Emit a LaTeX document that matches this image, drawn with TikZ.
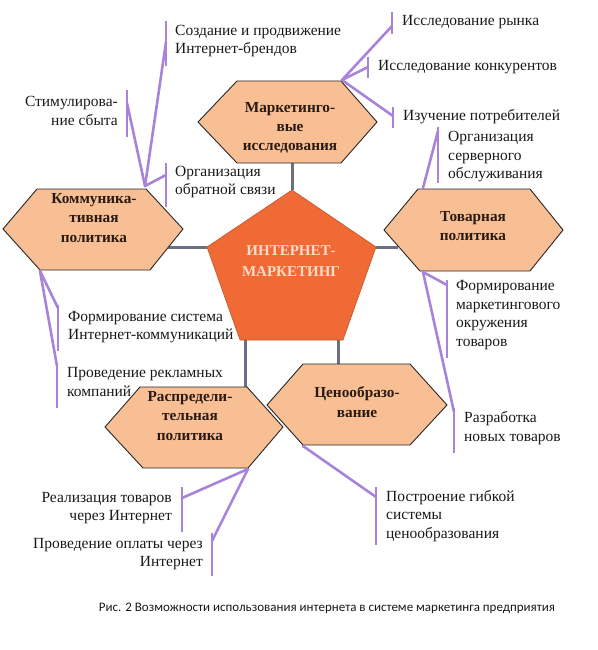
\documentclass[tikz,border=0pt]{standalone}
\usepackage{fontspec}
\setmainfont{Liberation Serif}
\newfontfamily\capfont{Carlito}
\definecolor{hexfill}{HTML}{F8BF95}
\definecolor{pentfill}{HTML}{F06A35}
\definecolor{penttext}{HTML}{FBDCC8}
\definecolor{linkgray}{HTML}{6A7082}
\definecolor{lav}{HTML}{A784DA}
\definecolor{darktext}{HTML}{2A1A12}
\begin{document}
\begin{tikzpicture}[x=1pt,y=-1pt,
  hexa/.style={draw=black!85, fill=hexfill, line width=0.9pt, line join=miter},
  pent/.style={draw=pentfill!80!black, fill=pentfill, line width=0.6pt},
  hl/.style={font=\bfseries\fontsize{15.3}{19.2}\selectfont, align=center, inner sep=0pt, text=darktext},
  ptxt/.style={font=\bfseries\fontsize{15}{21}\selectfont, align=center, inner sep=0pt, text=penttext},
  lbl/.style={font=\fontsize{15.5}{18.5}\selectfont, align=left, inner sep=0pt, anchor=west, text=black!90},
  lblr/.style={font=\fontsize{15.5}{18.5}\selectfont, align=right, inner sep=0pt, anchor=east, text=black!90},
  glink/.style={draw=linkgray, line width=3pt},
  plink/.style={draw=lav, line width=2.6pt, line cap=round},
  pbar/.style={draw=lav, line width=2.8pt}]
\useasboundingbox (0,0) rectangle (597,650);

% ---------- hexagon corner coordinates ----------
% Marketing research
\coordinate (Ml) at (198,122); \coordinate (Mtl) at (237,81); \coordinate (Mtr) at (341,81);
\coordinate (Mr) at (377,122); \coordinate (Mbr) at (341,163); \coordinate (Mbl) at (237,163);
% Communication
\coordinate (Kl) at (3,229); \coordinate (Ktl) at (37,189); \coordinate (Ktr) at (146,189);
\coordinate (Kr) at (183,229); \coordinate (Kbr) at (150,270); \coordinate (Kbl) at (40,270);
% Product
\coordinate (Tl) at (384,230); \coordinate (Ttl) at (418,189); \coordinate (Ttr) at (530,189);
\coordinate (Tr) at (563,230); \coordinate (Tbr) at (530,271); \coordinate (Tbl) at (420,271);
% Distribution
\coordinate (Rl) at (105,427); \coordinate (Rtl) at (140,387); \coordinate (Rtr) at (247,387);
\coordinate (Rr) at (283,427); \coordinate (Rbr) at (248,468); \coordinate (Rbl) at (143,468);
% Pricing
\coordinate (Cl) at (267,405); \coordinate (Ctl) at (303,364); \coordinate (Ctr) at (410,364);
\coordinate (Cr) at (447,405); \coordinate (Cbr) at (410,445); \coordinate (Cbl) at (303,445);
% Pentagon
\coordinate (Pt) at (292,190); \coordinate (Pur) at (376,247); \coordinate (Plr) at (343,340);
\coordinate (Pll) at (240,340); \coordinate (Pul) at (207,247);

% ---------- gray links ----------
\coordinate (Mb) at (292,163);
\coordinate (Ke) at (168,247);
\coordinate (Te) at (398,247);
\coordinate (Pb1) at (245,340); \coordinate (Rt) at (245,387);
\coordinate (Pb2) at (338,340); \coordinate (Ct) at (338,364);
\draw[glink] (Mb) -- (Pt);
\draw[glink] (Ke) -- (Pul);
\draw[glink] (Te) -- (Pur);
\draw[glink] (Pb1) -- (Rt);
\draw[glink] (Pb2) -- (Ct);

% ---------- shapes ----------
\path[hexa] (Ml) -- (Mtl) -- (Mtr) -- (Mr) -- (Mbr) -- (Mbl) -- cycle;
\path[hexa] (Kl) -- (Ktl) -- (Ktr) -- (Kr) -- (Kbr) -- (Kbl) -- cycle;
\path[hexa] (Tl) -- (Ttl) -- (Ttr) -- (Tr) -- (Tbr) -- (Tbl) -- cycle;
\path[hexa] (Rl) -- (Rtl) -- (Rtr) -- (Rr) -- (Rbr) -- (Rbl) -- cycle;
\path[hexa] (Cl) -- (Ctl) -- (Ctr) -- (Cr) -- (Cbr) -- (Cbl) -- cycle;
\path[pent] (Pt) -- (Pur) -- (Plr) -- (Pll) -- (Pul) -- cycle;

\node[hl] (M) at (290,128) {Маркетинго-\\вые\\исследования};
\node[hl] (K) at (94,218) {Коммуника-\\тивная\\политика};
\node[hl] (T) at (473,226) {Товарная\\политика};
\node[hl] (R) at (190,416) {Распредели-\\тельная\\политика};
\node[hl] (C) at (357,402) {Ценообразо-\\вание};
\node[ptxt] (P) at (291,261) {ИНТЕРНЕТ-\\МАРКЕТИНГ};

% ---------- purple brackets ----------
% Marketing research
\coordinate (Mo) at (342,80);
\coordinate (b1t) at (392,12); \coordinate (b1b) at (392,34); \coordinate (b1j) at (392,26);
\coordinate (b2t) at (368,57); \coordinate (b2b) at (368,78); \coordinate (b2j) at (368,67);
\coordinate (b3t) at (393,107); \coordinate (b3b) at (393,128); \coordinate (b3j) at (393,116);
\draw[plink] (Mo) -- (b1j); \draw[pbar] (b1t) -- (b1b);
\draw[plink] (Mo) -- (b2j); \draw[pbar] (b2t) -- (b2b);
\draw[plink] (Mo) -- (b3j); \draw[pbar] (b3t) -- (b3b);
\node[lbl] (L1) at (402,22) {Исследование рынка};
\node[lbl] (L2) at (378,67) {Исследование конкурентов};
\node[lbl] (L3) at (403,117) {Изучение потребителей};

% Communication, upper
\coordinate (Ko) at (145,186);
\coordinate (b4t) at (166,21); \coordinate (b4b) at (166,66); \coordinate (b4j) at (166,42);
\coordinate (b5t) at (127,90); \coordinate (b5b) at (127,137); \coordinate (b5j) at (127,103);
\coordinate (b6t) at (166,163); \coordinate (b6b) at (166,207); \coordinate (b6j) at (166,175);
\draw[plink] (Ko) -- (b4j); \draw[pbar] (b4t) -- (b4b);
\draw[plink] (Ko) -- (b5j); \draw[pbar] (b5t) -- (b5b);
\draw[plink] (Ko) -- (b6j); \draw[pbar] (b6t) -- (b6b);
\node[lbl] (L4) at (175,41) {Создание и продвижение\\Интернет-брендов};
\node[lblr] (L5) at (118,111) {Стимулирова-\\ние сбыта};
\node[lbl] (L6) at (175,182) {Организация\\обратной связи};

% Communication, lower
\coordinate (Kb) at (40,271);
\coordinate (b7t) at (58,305); \coordinate (b7b) at (58,351); \coordinate (b7j) at (58,308);
\coordinate (b8t) at (57,363); \coordinate (b8b) at (57,408); \coordinate (b8j) at (57,366);
\draw[plink] (Kb) -- (b7j); \draw[pbar] (b7t) -- (b7b);
\draw[plink] (Kb) -- (b8j); \draw[pbar] (b8t) -- (b8b);
\node[lbl] (L7) at (68,327) {Формирование система\\Интернет-коммуникаций};
\node[lbl] (L8) at (67,382) {Проведение рекламных\\компаний};

% Product, upper
\coordinate (To) at (423,188);
\coordinate (b9t) at (438,127); \coordinate (b9b) at (438,183); \coordinate (b9j) at (438,131);
\draw[plink] (To) -- (b9j); \draw[pbar] (b9t) -- (b9b);
\node[lbl] (L9) at (448,157) {Организация\\серверного\\обслуживания};

% Product, lower
\coordinate (Tb) at (423,272);
\coordinate (b10t) at (447,280); \coordinate (b10b) at (447,358); \coordinate (b10j) at (447,285);
\coordinate (b11t) at (454,408); \coordinate (b11b) at (454,453); \coordinate (b11j) at (454,412);
\draw[plink] (Tb) -- (b10j); \draw[pbar] (b10t) -- (b10b);
\draw[plink] (Tb) -- (b11j); \draw[pbar] (b11t) -- (b11b);
\node[lbl] (L10) at (456,315) {Формирование\\маркетингового\\окружения\\товаров};
\node[lbl] (L11) at (464,428) {Разработка\\новых товаров};

% Distribution
\coordinate (Ro) at (248,469);
\coordinate (b12t) at (182,487); \coordinate (b12b) at (182,532); \coordinate (b12j) at (182,498);
\coordinate (b13t) at (212,533); \coordinate (b13b) at (212,576); \coordinate (b13j) at (212,541);
\draw[plink] (Ro) -- (b12j); \draw[pbar] (b12t) -- (b12b);
\draw[plink] (Ro) -- (b13j); \draw[pbar] (b13t) -- (b13b);
\node[lblr] (L12) at (172,508) {Реализация товаров\\через Интернет};
\node[lblr] (L13) at (203,554) {Проведение оплаты через\\Интернет};

% Pricing
\coordinate (Co) at (303,446);
\coordinate (b14t) at (376,487); \coordinate (b14b) at (376,545); \coordinate (b14j) at (376,497);
\draw[plink] (Co) -- (b14j); \draw[pbar] (b14t) -- (b14b);
\node[lbl] (L14) at (386,516) {Построение гибкой\\системы\\ценообразования};

% Caption
\node[font=\capfont\fontsize{13}{15}\selectfont, inner sep=0pt, text=black!90] (cap) at (327,608)
  {Рис. 2 Возможности использования интернета в системе маркетинга предприятия};
\end{tikzpicture}
\end{document}
